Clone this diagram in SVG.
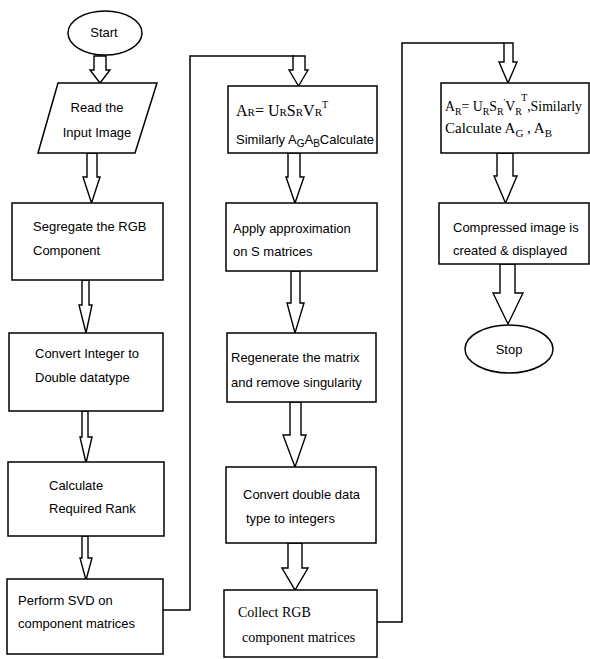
<svg xmlns="http://www.w3.org/2000/svg" width="590" height="659" viewBox="0 0 590 659">
<style>
.box{fill:#fff;stroke:#000;stroke-width:1.5}
.arr{fill:#fff;stroke:#000;stroke-width:1.4;stroke-linejoin:miter}
.ln{fill:none;stroke:#000;stroke-width:1.5}
.t{font-family:"Liberation Sans",Arial,sans-serif;font-size:13px;fill:#000}
.s{font-family:"Liberation Serif","Times New Roman",serif;fill:#000}
</style>
<rect width="590" height="659" fill="#fff"/>
<g id="connectors">
<polyline class="ln" points="163,610 190,610 190,56 294,56"/>
<polyline class="ln" points="377,622 402,622 402,43 504,43"/>
<polygon class="arr" points="94,56 106,56 106,70 110,70 100,83 90,70 94,70"/>
<polygon class="arr" points="87,153 97,153 97,177 100,177 91.5,203 83,177 87,177"/>
<polygon class="arr" points="82,280 89,280 89,305 92,305 86,333 79,305 82,305"/>
<polygon class="arr" points="82,411 88,411 88,437 92,437 86,463 80,437 82,437"/>
<polygon class="arr" points="82,536 88,536 88,558 92,558 86,580 80,558 82,558"/>
<polygon class="arr" points="293,56 305,56 305,70 308,70 298.5,86 289,70 293,70"/>
<polygon class="arr" points="288,153 300,153 300,177 304,177 295,203 286,177 288,177"/>
<polygon class="arr" points="291,271 300,271 300,303 304,303 295,333 287,303 291,303"/>
<polygon class="arr" points="290,402 301,402 301,435 306,435 295,467 283,435 290,435"/>
<polygon class="arr" points="288,543 302,543 302,568 308,568 295,590 282,568 288,568"/>
<polygon class="arr" points="504,43 513,43 513,62 517,62 508,83 499,62 504,62"/>
<polygon class="arr" points="497,153 513,153 513,176 517,176 505.5,203 494,176 497,176"/>
<polygon class="arr" points="500,264 515,264 515,293 523,293 508,324 493,293 500,293"/>
</g>
<g id="start">
<ellipse class="box" cx="105" cy="33" rx="37" ry="22"/>
<text class="t" x="104" y="37" text-anchor="middle">Start</text>
</g>
<g id="read">
<polygon class="box" points="58,83 157,83 135,153 38,153"/>
<text class="t" x="97" y="112" text-anchor="middle">Read the</text>
<text class="t" x="97" y="137" text-anchor="middle">Input Image</text>
</g>
<g id="segregate">
<rect class="box" x="12" y="203" width="151" height="77"/>
<text class="t" x="33" y="231">Segregate the RGB</text>
<text class="t" x="33" y="255">Component</text>
</g>
<g id="convert">
<rect class="box" x="9" y="333" width="154" height="78"/>
<text class="t" x="35" y="358">Convert Integer to</text>
<text class="t" x="35" y="382">Double datatype</text>
</g>
<g id="rank">
<rect class="box" x="8" y="462" width="156" height="74"/>
<text class="t" x="49" y="490">Calculate</text>
<text class="t" x="49" y="513">Required Rank</text>
</g>
<g id="svd">
<rect class="box" x="7" y="579" width="156" height="75"/>
<text class="t" x="18" y="605">Perform SVD on</text>
<text class="t" x="18" y="628">component matrices</text>
</g>
<g id="formula1">
<rect class="box" x="228" y="86" width="149" height="67"/>
<text class="s" x="236" y="116" font-size="16">A<tspan font-size="11">R</tspan>= U<tspan font-size="11">R</tspan>S<tspan font-size="11">R</tspan>V<tspan font-size="11">R</tspan><tspan font-size="10" dy="-8">T</tspan></text>
<text class="t" x="236" y="144" font-size="12">Similarly A<tspan font-size="10" dy="3">G</tspan><tspan dy="-3">A</tspan><tspan font-size="10" dy="3">B</tspan><tspan dy="-3">Calculate</tspan></text>
</g>
<g id="approx">
<rect class="box" x="226" y="203" width="151" height="68"/>
<text class="t" x="233" y="233">Apply approximation</text>
<text class="t" x="233" y="256">on S matrices</text>
</g>
<g id="regen">
<rect class="box" x="227" y="333" width="149" height="69"/>
<text class="t" x="231" y="362">Regenerate the matrix</text>
<text class="t" x="231" y="387">and remove singularity</text>
</g>
<g id="tointeger">
<rect class="box" x="226" y="467" width="150" height="76"/>
<text class="t" x="243" y="499">Convert double data</text>
<text class="t" x="246" y="523">type to integers</text>
</g>
<g id="collect">
<rect class="box" x="224" y="590" width="153" height="67"/>
<text class="s" x="238" y="617" font-size="14">Collect RGB</text>
<text class="s" x="242" y="642" font-size="14">component matrices</text>
</g>
<g id="formula2">
<rect class="box" x="441" y="83" width="148" height="70"/>
<text class="s" x="445" y="111" font-size="14" textLength="137" lengthAdjust="spacingAndGlyphs">A<tspan font-size="10" dy="4">R</tspan><tspan dy="-4">= U</tspan><tspan font-size="10" dy="4">R</tspan><tspan dy="-4">S</tspan><tspan font-size="10" dy="4">R</tspan><tspan font-size="9" dy="-10">'</tspan><tspan dy="6">V</tspan><tspan font-size="10" dy="4">R</tspan><tspan font-size="10" dy="-14">T</tspan><tspan dy="10">,Similarly</tspan></text>
<text class="s" x="445" y="133" font-size="15">Calculate A<tspan font-size="11" dy="4">G</tspan><tspan dy="-4"> , A</tspan><tspan font-size="11" dy="4">B</tspan></text>
</g>
<g id="compressed">
<rect class="box" x="439" y="203" width="150" height="61"/>
<text class="t" x="453" y="232">Compressed image is</text>
<text class="t" x="453" y="255">created &amp; displayed</text>
</g>
<g id="stop">
<ellipse class="box" cx="509" cy="349" rx="44" ry="24"/>
<text class="t" x="509" y="354" text-anchor="middle">Stop</text>
</g>
</svg>
